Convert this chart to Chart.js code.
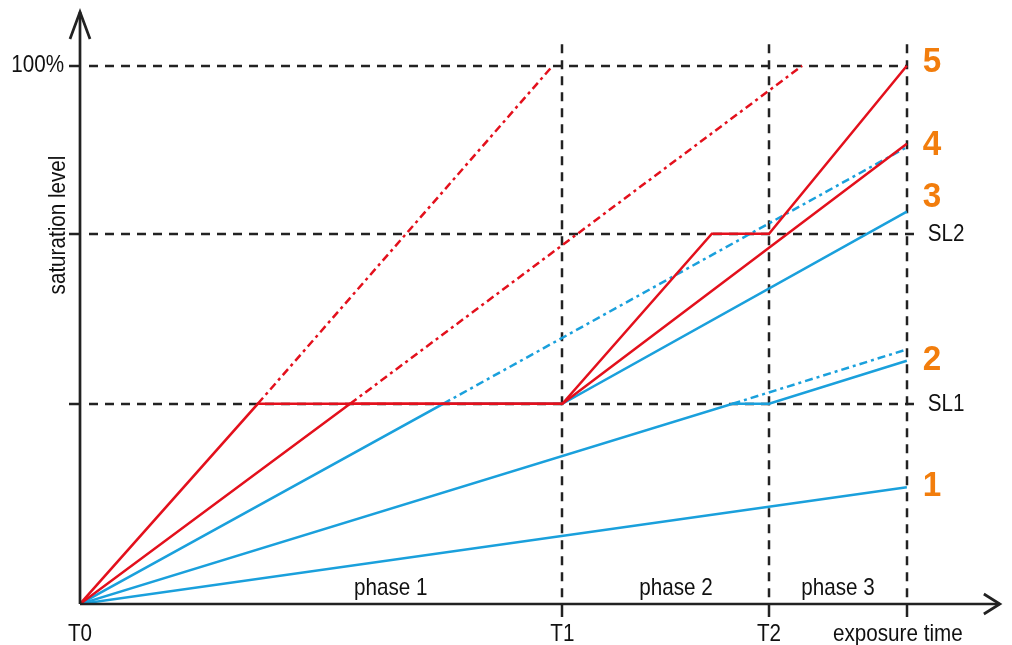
<!DOCTYPE html>
<html>
<head>
<meta charset="utf-8">
<script src="https://cdn.jsdelivr.net/npm/chart.js@4"></script>
<style>body{margin:0;background:#fff}</style>
</head>
<body>
<canvas id="chart" width="1012" height="645"></canvas>
<script>
// time axis marks and saturation levels
const timeTicks = [0, 7, 10, 12];
const timeLabels = ['T0', 'T1', 'T2', 'exposure time'];
const levelTicks = [37.2, 68.8, 100];
const levelLabels = ['SL1', 'SL2', '100%'];
const phaseLabels = ['phase 1', 'phase 2', 'phase 3'];

// red curves (5 and 4) with their unlimited dashed continuation
const red5X = [0, 2.58, 7, 9.17, 10, 12];
const red5Y = [0, 37.2, 37.2, 68.8, 68.8, 100];
const red4X = [0, 3.92, 7, 12];
const red4Y = [0, 37.2, 37.2, 85.5];
const red5DashX = [2.58, 6.86];
const red5DashY = [37.2, 100];
const red4DashX = [3.92, 10.48];
const red4DashY = [37.2, 100];

// blue curves (3, 2, 1)
const blue3X = [0, 5.27, 7, 12];
const blue3Y = [0, 37.2, 37.2, 72.9];
const blue3DashX = [5.27, 12];
const blue3DashY = [37.2, 84.9];
const blue2X = [0, 9.47, 10, 12];
const blue2Y = [0, 37.2, 37.2, 45.2];
const blue2DashX = [9.47, 12];
const blue2DashY = [37.2, 47.3];
const blue1X = [0, 12];
const blue1Y = [0, 21.7];

const curveNames = ['5', '4', '3', '2', '1'];
const curveEnds = [red5Y, red4Y, blue3Y, blue2Y, blue1Y];

const RED = '#e3101c';
const BLUE = '#1aa0dc';
const ORANGE = '#f27d0c';
const FONT = '"Liberation Sans", Arial, sans-serif';

function pts(xs, ys) {
    return xs.map((v, i) => ({ x: v, y: ys[i] }));
}

function ds(xs, ys, color, dash) {
    return {
        data: pts(xs, ys),
        borderColor: color,
        borderWidth: 2.5,
        borderDash: dash || [],
        pointRadius: 0,
        tension: 0,
        fill: false,
        showLine: true
    };
}

function seg(ctx, a, b, c, d) {
    ctx.beginPath();
    ctx.moveTo(a, b);
    ctx.lineTo(c, d);
    ctx.stroke();
}

// condensed text: squeeze horizontally around the anchor point
function txt(ctx, s, px, py, sx) {
    ctx.save();
    ctx.translate(px, py);
    ctx.scale(sx, 1);
    ctx.fillText(s, 0, 0);
    ctx.restore();
}

const decor = {
    id: 'decor',
    beforeDatasetsDraw(chart) {
        const { ctx, scales: { x, y } } = chart;
        const x0 = x.getPixelForValue(0);
        const y0 = y.getPixelForValue(0);
        const xEnd = x.getPixelForValue(12);
        ctx.save();
        ctx.strokeStyle = '#222';
        ctx.lineWidth = 2.5;
        levelTicks.forEach(v => {
            const py = Math.round(y.getPixelForValue(v));
            ctx.setLineDash([]);
            seg(ctx, x0 - 11, py, x0, py);
            ctx.setLineDash([9, 7]);
            seg(ctx, x0 + 9, py, v === 100 ? xEnd : xEnd + 12, py);
        });
        timeTicks.slice(1).forEach(v => {
            const px = Math.round(x.getPixelForValue(v));
            ctx.setLineDash([]);
            seg(ctx, px, y0, px, y0 + 13);
            ctx.setLineDash([9, 7]);
            seg(ctx, px, y.getPixelForValue(104), px, y0);
        });
        ctx.restore();
    },
    afterDatasetsDraw(chart) {
        const { ctx, scales: { x, y } } = chart;
        const x0 = x.getPixelForValue(0);
        const y0 = y.getPixelForValue(0);
        const xEnd = x.getPixelForValue(12);
        ctx.save();
        // axes with open arrow heads
        ctx.strokeStyle = '#222';
        ctx.lineWidth = 2.7;
        ctx.setLineDash([]);
        const yTop = y.getPixelForValue(110);
        const xRight = x.getPixelForValue(13.35);
        seg(ctx, x0, y0, x0, yTop);
        seg(ctx, x0, y0, xRight, y0);
        ctx.beginPath();
        ctx.moveTo(x0 - 10, yTop + 27);
        ctx.lineTo(x0, yTop);
        ctx.lineTo(x0 + 10, yTop + 27);
        ctx.stroke();
        ctx.beginPath();
        ctx.moveTo(xRight - 16, y0 - 10);
        ctx.lineTo(xRight, y0);
        ctx.lineTo(xRight - 16, y0 + 10);
        ctx.stroke();

        // texts
        const sx = 0.86;
        ctx.fillStyle = '#111';
        ctx.font = '24px ' + FONT;
        ctx.textBaseline = 'middle';
        levelTicks.forEach((v, i) => {
            const py = y.getPixelForValue(v);
            if (levelLabels[i] === '100%') {
                ctx.textAlign = 'right';
                txt(ctx, levelLabels[i], x0 - 16, py, sx);
            } else {
                ctx.textAlign = 'left';
                txt(ctx, levelLabels[i], xEnd + 21, py + 1, sx);
            }
        });
        ctx.textAlign = 'center';
        timeTicks.forEach((v, i) => {
            const px = x.getPixelForValue(v) - (i === 3 ? 9 : 0);
            txt(ctx, timeLabels[i], px, y0 + 30, sx);
        });
        [4.51, 8.65, 11.0].forEach((v, i) => {
            txt(ctx, phaseLabels[i], x.getPixelForValue(v), y0 - 16, sx);
        });
        ctx.save();
        ctx.translate(58, 225);
        ctx.rotate(-Math.PI / 2);
        txt(ctx, 'saturation level', 0, 0, sx);
        ctx.restore();

        // curve numbers
        ctx.font = 'bold 35px ' + FONT;
        ctx.fillStyle = ORANGE;
        ctx.textAlign = 'left';
        const shift = [-3, 1, -14, 0, -1];
        curveNames.forEach((n, i) => {
            const ys = curveEnds[i];
            txt(ctx, n, xEnd + 16, y.getPixelForValue(ys[ys.length - 1]) + shift[i], 0.95);
        });
        ctx.restore();
    }
};

new Chart(document.getElementById('chart').getContext('2d'), {
    type: 'line',
    data: {
        datasets: [
            ds(red5X, red5Y, RED),
            ds(red4X, red4Y, RED),
            ds(red5DashX, red5DashY, RED, [8, 4, 3, 4]),
            ds(red4DashX, red4DashY, RED, [8, 4, 3, 4]),
            ds(blue3X, blue3Y, BLUE),
            ds(blue2X, blue2Y, BLUE),
            ds(blue1X, blue1Y, BLUE),
            ds(blue3DashX, blue3DashY, BLUE, [8, 4, 3, 4]),
            ds(blue2DashX, blue2DashY, BLUE, [8, 4, 3, 4])
        ]
    },
    options: {
        responsive: false,
        animation: false,
        layout: { padding: { left: 80, right: 8, top: 12, bottom: 41 } },
        plugins: { legend: { display: false }, tooltip: { enabled: false } },
        scales: {
            x: { type: 'linear', min: 0, max: 13.41, display: false },
            y: { type: 'linear', min: 0, max: 110, display: false }
        }
    },
    plugins: [decor]
});
</script>
</body>
</html>
